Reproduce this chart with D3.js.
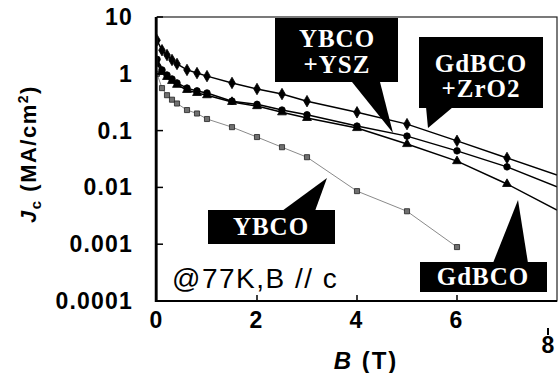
<!DOCTYPE html>
<html>
<head>
<meta charset="utf-8">
<script src="https://cdn.jsdelivr.net/npm/d3@7"></script>
<style>
  body { margin: 0; background: #fff; }
  svg { display: block; }
</style>
</head>
<body>
<svg id="canvas" width="559" height="373"></svg>
<script>
'use strict';

// field values (T) and Jc (MA/cm2)
const fieldT = [0, 0.1, 0.2, 0.3, 0.4, 0.6, 0.8, 1, 1.5, 2, 2.5, 3, 4, 5, 6, 7, 8];
const gdbcoZrO2 = [3.9, 2.6, 2.14, 1.75, 1.49, 1.17, 1.03, 0.91, 0.69, 0.54, 0.44, 0.33, 0.21, 0.13, 0.066, 0.033, 0.0165];
const ybcoYsz = [1.8, 1.17, 0.95, 0.81, 0.69, 0.56, 0.50, 0.46, 0.33, 0.29, 0.23, 0.19, 0.12, 0.080, 0.044, 0.023, 0.0102];
const gdbco = [1.5, 1.08, 0.88, 0.75, 0.64, 0.52, 0.46, 0.42, 0.32, 0.27, 0.21, 0.167, 0.111, 0.058, 0.029, 0.0115, 0.004];
const ybcoField = [0, 0.1, 0.2, 0.3, 0.4, 0.6, 0.8, 1, 1.5, 2, 2.5, 3, 4, 5, 6];
const ybco = [1.0, 0.56, 0.42, 0.35, 0.30, 0.23, 0.20, 0.16, 0.115, 0.077, 0.051, 0.034, 0.0086, 0.0038, 0.00089];

const xTicks = [0, 2, 4, 6, 8];
const yTicks = [10, 1, 0.1, 0.01, 0.001, 0.0001];
const yTickLabels = ['10', '1', '0.1', '0.01', '0.001', '0.0001'];

function Main() {
  const svg = d3.select('#canvas');
  const left = 157, right = 557, top = 17, bottom = 301;

  const x = d3.scaleLinear().domain([0, 8]).range([left, right]);
  const y = d3.scaleLog().domain([0.0001, 10]).range([bottom, top]);

  svg.append('clipPath').attr('id', 'plotClip')
    .append('rect')
      .attr('x', left).attr('y', top)
      .attr('width', right - left).attr('height', bottom - top);

  const series = [
    {name: 'GdBCO+ZrO2', b: fieldT, jc: gdbcoZrO2, symbol: d3.symbolDiamond, size: 38,
      line: '#000', width: 1.5, fill: '#000', stroke: '#000'},
    {name: 'YBCO+YSZ', b: fieldT, jc: ybcoYsz, symbol: d3.symbolCircle, size: 34,
      line: '#000', width: 1.5, fill: '#000', stroke: '#000'},
    {name: 'GdBCO', b: fieldT, jc: gdbco, symbol: d3.symbolTriangle, size: 34,
      line: '#000', width: 1.5, fill: '#000', stroke: '#000'},
    {name: 'YBCO', b: ybcoField, jc: ybco, symbol: d3.symbolSquare, size: 26,
      line: '#8a8a8a', width: 1, fill: '#707070', stroke: '#222'}
  ];

  const line = d3.line()
    .x(function(d) { return x(d[0]); })
    .y(function(d) { return y(d[1]); });

  const plot = svg.append('g').attr('clip-path', 'url(#plotClip)');

  series.slice().reverse().forEach(function(s) {
    const pts = s.b.map(function(b, i) { return [b, s.jc[i]]; });
    plot.append('path')
      .attr('d', line(pts))
      .attr('fill', 'none')
      .attr('stroke', s.line)
      .attr('stroke-width', s.width);
    // last point at 8 T is where the curve leaves the frame, no marker
    plot.selectAll(null)
        .data(pts.filter(function(p) { return p[0] < 8; }))
      .enter().append('path')
        .attr('transform', function(d) { return 'translate(' + x(d[0]) + ',' + y(d[1]) + ')'; })
        .attr('d', d3.symbol().type(s.symbol).size(s.size))
        .attr('fill', s.fill)
        .attr('stroke', s.stroke)
        .attr('stroke-width', 0.8);
  });

  // frame
  svg.append('rect')
    .attr('x', left).attr('y', top)
    .attr('width', right - left).attr('height', bottom - top)
    .attr('fill', 'none').attr('stroke', '#222').attr('stroke-width', 1.2);
  svg.append('line')
    .attr('x1', left - 1).attr('x2', left - 1).attr('y1', top).attr('y2', bottom + 1)
    .attr('stroke', '#000').attr('stroke-width', 2.5);
  svg.append('line')
    .attr('x1', left - 2).attr('x2', right).attr('y1', bottom).attr('y2', bottom)
    .attr('stroke', '#000').attr('stroke-width', 2);

  // inward ticks
  svg.selectAll('.ytick')
      .data(yTicks)
    .enter().append('line')
      .attr('x1', left).attr('x2', left + 6)
      .attr('y1', function(d) { return y(d); })
      .attr('y2', function(d) { return y(d); })
      .attr('stroke', '#000').attr('stroke-width', 1.5);
  svg.selectAll('.xtick')
      .data(xTicks.slice(1, 4))
    .enter().append('line')
      .attr('x1', function(d) { return x(d); })
      .attr('x2', function(d) { return x(d); })
      .attr('y1', bottom).attr('y2', bottom - 6)
      .attr('stroke', '#000').attr('stroke-width', 1.5);

  const tickFont = {family: 'Liberation Sans, Arial, sans-serif', size: '23px', weight: 'bold'};

  svg.selectAll('.ylabel')
      .data(yTicks)
    .enter().append('text')
      .attr('x', 133)
      .attr('y', function(d) { return y(d) + 8; })
      .attr('text-anchor', 'end')
      .attr('font-family', tickFont.family)
      .attr('font-size', tickFont.size)
      .attr('font-weight', tickFont.weight)
      .attr('letter-spacing', 1.2)
      .text(function(d, i) { return yTickLabels[i]; });

  svg.selectAll('.xlabel')
      .data(xTicks)
    .enter().append('text')
      .attr('x', function(d) { return d === 8 ? x(d) - 9 : x(d) - 1; })
      .attr('y', function(d) { return d === 8 ? 353 : 328; })
      .attr('text-anchor', 'middle')
      .attr('font-family', tickFont.family)
      .attr('font-size', tickFont.size)
      .attr('font-weight', tickFont.weight)
      .text(function(d) { return d; });
  // stray tick above the 8
  svg.append('line')
    .attr('x1', x(8) - 9).attr('x2', x(8) - 9).attr('y1', 328).attr('y2', 335)
    .attr('stroke', '#000').attr('stroke-width', 2);

  // axis titles
  const xt = svg.append('text')
    .attr('x', 366).attr('y', 369)
    .attr('text-anchor', 'middle')
    .attr('font-family', tickFont.family)
    .attr('font-size', '24px')
    .attr('font-weight', 'bold')
    .attr('letter-spacing', 2);
  xt.append('tspan').attr('font-style', 'italic').text('B');
  xt.append('tspan').text(' (T)');

  const yt = svg.append('text')
    .attr('transform', 'translate(36,154) rotate(-90)')
    .attr('text-anchor', 'middle')
    .attr('font-family', tickFont.family)
    .attr('font-size', '22px')
    .attr('font-weight', 'bold')
    .attr('letter-spacing', 1.5);
  yt.append('tspan').attr('font-style', 'italic').text('J');
  yt.append('tspan').attr('font-size', '15px').attr('dy', 5).text('c');
  yt.append('tspan').attr('dy', -5).text(' (MA/cm');
  yt.append('tspan').attr('font-size', '14px').attr('dy', -8).text('2');
  yt.append('tspan').attr('dy', 8).text(')');

  // callouts: box, pointer, text lines
  const callouts = [
    {box: [275, 18, 123, 64], ptr: [[352, 82], [380, 82], [393, 133]],
      lines: ['YBCO', '+YSZ'], cx: 337, base: [47, 73]},
    {box: [419, 37, 124, 71], ptr: [[426, 107], [453, 107], [428, 128]],
      lines: ['GdBCO', '+ZrO2'], cx: 481, base: [72, 97]},
    {box: [208, 210, 127, 34], ptr: [[282, 211], [315, 211], [327, 178]],
      lines: ['YBCO'], cx: 271, base: [235]},
    {box: [420, 262, 127, 30], ptr: [[493, 263], [528, 263], [518, 200]],
      lines: ['GdBCO'], cx: 483, base: [285]}
  ];

  callouts.forEach(function(c) {
    svg.append('rect')
      .attr('x', c.box[0]).attr('y', c.box[1])
      .attr('width', c.box[2]).attr('height', c.box[3])
      .attr('fill', '#000');
    svg.append('polygon')
      .attr('points', c.ptr.map(function(p) { return p.join(','); }).join(' '))
      .attr('fill', '#000');
    c.lines.forEach(function(t, i) {
      svg.append('text')
        .attr('x', c.cx).attr('y', c.base[i])
        .attr('text-anchor', 'middle')
        .attr('font-family', 'Liberation Serif, Times New Roman, serif')
        .attr('font-size', '25px')
        .attr('font-weight', 'bold')
        .attr('letter-spacing', 1)
        .attr('fill', '#fff')
        .text(t);
    });
  });

  svg.append('text')
    .attr('x', 172).attr('y', 288)
    .attr('font-family', 'Liberation Sans, Arial, sans-serif')
    .attr('font-size', '28px')
    .attr('letter-spacing', 1.5)
    .text('@77K,B // c');
}

Main();
</script>
</body>
</html>
